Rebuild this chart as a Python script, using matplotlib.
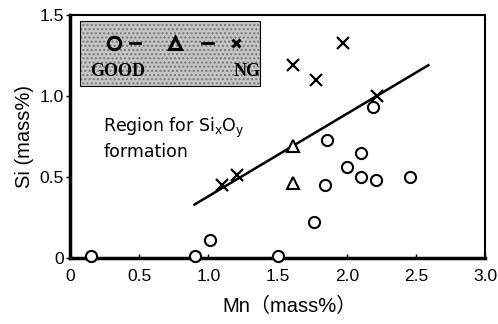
import matplotlib
matplotlib.use("Agg")
import matplotlib.pyplot as plt
from matplotlib.patches import Rectangle

# GOOD (circles)
good_mn = [0.15, 0.90, 1.01, 1.50, 1.76, 1.84, 1.86, 2.00, 2.10, 2.10, 2.21, 2.19, 2.46]
good_si = [0.01, 0.01, 0.11, 0.01, 0.22, 0.45, 0.73, 0.56, 0.65, 0.50, 0.48, 0.93, 0.50]
# intermediate (triangles)
mid_mn = [1.61, 1.61]
mid_si = [0.69, 0.46]
# NG (crosses)
ng_mn = [1.10, 1.21, 1.61, 1.78, 1.97, 2.22]
ng_si = [0.45, 0.51, 1.19, 1.10, 1.33, 1.00]
# boundary line
line_mn = [0.90, 2.59]
line_si = [0.33, 1.19]

x_ticks = [0, 0.5, 1.0, 1.5, 2.0, 2.5, 3.0]
x_labels = ["0", "0.5", "1.0", "1.5", "2.0", "2.5", "3.0"]
y_ticks = [0, 0.5, 1.0, 1.5]
y_labels = ["0", "0.5", "1.0", "1.5"]

plt.rcParams["font.family"] = ["Liberation Sans", "Noto Sans CJK JP"]

fig = plt.figure(figsize=(4.98, 3.24), dpi=100)
ax = fig.add_axes([0.1406, 0.2037, 0.974 - 0.1406, 0.9537 - 0.2037])

ax.plot(line_mn, line_si, color="black", lw=1.8, zorder=2)
ax.plot(good_mn, good_si, "o", ms=8, mfc="white", mec="black", mew=1.5, ls="none", zorder=3, clip_on=False)
ax.plot(mid_mn, mid_si, "^", ms=8, mfc="white", mec="black", mew=1.5, ls="none", zorder=3)
ax.plot(ng_mn, ng_si, "x", ms=8, mec="black", mew=1.6, ls="none", zorder=3)

ax.set_xlim(0, 3.0)
ax.set_ylim(0, 1.5)
ax.set_xticks(x_ticks)
ax.set_xticklabels(x_labels)
ax.set_yticks(y_ticks)
ax.set_yticklabels(y_labels)
ax.tick_params(axis="both", labelsize=12.5, length=3, width=1, color="black")
ax.tick_params(axis="x", direction="in", pad=8)
ax.tick_params(axis="y", direction="out", pad=1.5)

ax.spines["left"].set_linewidth(2.5)
ax.spines["bottom"].set_linewidth(2.5)
ax.spines["top"].set_linewidth(1.5)
ax.spines["right"].set_linewidth(1.5)

ax.set_xlabel("Mn（mass%）", fontsize=14.5)
ax.xaxis.set_label_coords(0.529, -0.2)
ax.xaxis.label.set_verticalalignment("center")
ax.set_ylabel("Si (mass%)", fontsize=14.5, labelpad=4)

# legend box (stippled gray)
ax.add_patch(Rectangle((0.072, 1.06), 1.30, 0.40, facecolor="#c6c6c6", edgecolor="#767676",
                       lw=0, hatch="....", zorder=1))
ax.add_patch(Rectangle((0.072, 1.06), 1.30, 0.40, facecolor="none", edgecolor="black",
                       lw=0.8, zorder=1.5))
ax.plot([0.318], [1.327], "o", ms=9, mfc="none", mec="black", mew=2.2, zorder=4)
ax.plot([0.759], [1.33], "^", ms=8, mfc="none", mec="black", mew=2.2, zorder=4)
ax.plot([1.20], [1.33], "x", ms=6, mec="black", mew=2.2, zorder=4)
ax.plot([0.434, 0.506], [1.33, 1.33], color="black", lw=2, zorder=4)
ax.plot([0.954, 1.034], [1.33, 1.33], color="black", lw=2, zorder=4)
ax.text(0.145, 1.154, "GOOD", fontsize=13, fontweight="bold", family="Liberation Serif",
        va="center", zorder=4)
ax.text(1.18, 1.154, "NG", fontsize=13, fontweight="bold", family="Liberation Serif",
        va="center", zorder=4)

ax.text(0.24, 0.778, "Region for Si$_\\mathregular{x}$O$_\\mathregular{y}$", fontsize=12.5,
        family="DejaVu Sans", va="baseline", ha="left")
ax.text(0.24, 0.623, "formation", fontsize=12.5, family="DejaVu Sans", va="baseline", ha="left")

fig.savefig("out.png", dpi=100)
